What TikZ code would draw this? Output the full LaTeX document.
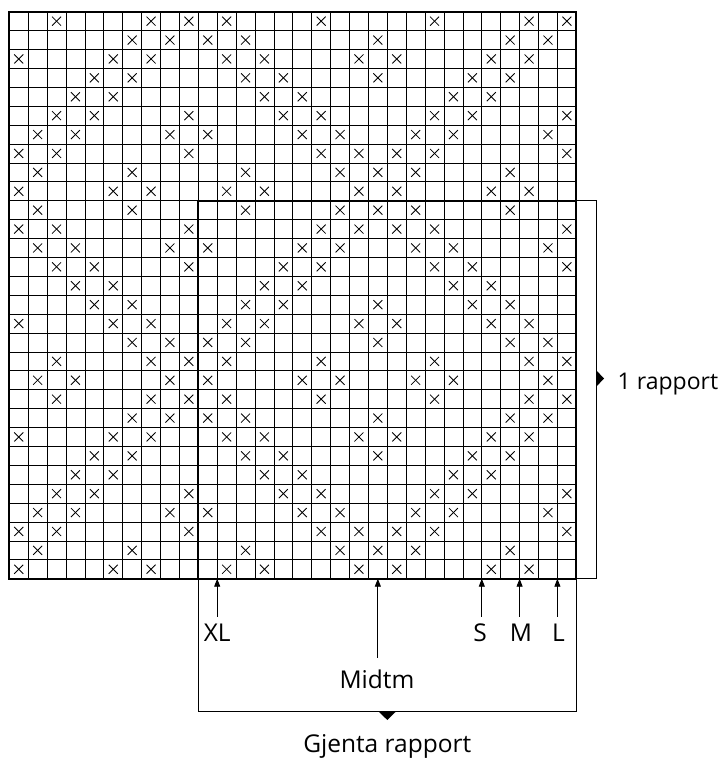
\documentclass[tikz,border=0pt]{standalone}
\usepackage{fontspec}
\setmainfont{Open Sans}
\usetikzlibrary{arrows.meta}
\begin{document}
\begin{tikzpicture}[x=1pt,y=-1pt,
  gridline/.style={line width=0.75pt},
  border/.style={line width=2pt},
  xmark/.style={line width=0.8pt},
  thinline/.style={line width=0.9pt},
  lbl/.style={font=\fontsize{24.5}{28}\selectfont, inner sep=0pt},
  uparrow/.style={thinline, -{Triangle[length=8pt,width=6pt]}}
]
\useasboundingbox (0,0) rectangle (724,758);
\def\s{18.9}
\def\ox{9.3}
\def\oy{11.7}
% grid lines
\foreach \k in {1,...,29} {
  \draw[gridline] ({\ox+\k*\s},\oy) -- ({\ox+\k*\s},{\oy+30*\s});
  \draw[gridline] (\ox,{\oy+\k*\s}) -- ({\ox+30*\s},{\oy+\k*\s});
}
% crosses
\foreach \r/\cols in {
 0/{2,7,9,11,16,22,27,29},
 1/{6,8,10,12,19,26,28},
 2/{0,5,7,11,13,18,20,25,27},
 3/{4,6,12,14,19,24,26},
 4/{3,5,13,15,23,25},
 5/{2,4,9,14,16,22,24,29},
 6/{1,3,8,10,15,17,21,23,28},
 7/{0,2,9,16,18,20,22,29},
 8/{1,6,12,17,19,21,26},
 9/{0,5,7,11,13,18,20,25,27},
 10/{1,6,12,17,19,21,26},
 11/{0,2,9,16,18,20,22,29},
 12/{1,3,8,10,15,17,21,23,28},
 13/{2,4,9,14,16,22,24,29},
 14/{3,5,13,15,23,25},
 15/{4,6,12,14,19,24,26},
 16/{0,5,7,11,13,18,20,25,27},
 17/{6,8,10,12,19,26,28},
 18/{2,7,9,11,16,22,27,29},
 19/{1,3,8,10,15,17,21,23,28},
 20/{2,7,9,11,16,22,27,29},
 21/{6,8,10,12,19,26,28},
 22/{0,5,7,11,13,18,20,25,27},
 23/{4,6,12,14,19,24,26},
 24/{3,5,13,15,23,25},
 25/{2,4,9,14,16,22,24,29},
 26/{1,3,8,10,15,17,21,23,28},
 27/{0,2,9,16,18,20,22,29},
 28/{1,6,12,17,19,21,26},
 29/{0,5,7,11,13,18,20,25,27}} {
  \foreach \c in \cols {
    \pgfmathsetmacro\cx{\ox+(\c+0.5)*\s}
    \pgfmathsetmacro\cy{\oy+(\r+0.5)*\s}
    \draw[xmark] ({\cx-4.5},{\cy-4.5}) -- ({\cx+4.5},{\cy+4.5});
    \draw[xmark] ({\cx-4.5},{\cy+4.5}) -- ({\cx+4.5},{\cy-4.5});
  }
}
% borders
\draw[border] (\ox,\oy) rectangle ({\ox+30*\s},{\oy+30*\s});
\draw[border] ({\ox+10*\s},{\oy+10*\s}) rectangle ({\ox+30*\s},{\oy+30*\s});
% right bracket
\draw[thinline] ({\ox+30*\s},{\oy+10*\s}) -- (596,{\oy+10*\s}) -- (596,{\oy+30*\s}) -- ({\ox+30*\s},{\oy+30*\s});
\fill (596,370) -- (604,378.5) -- (596,387) -- cycle;
\node[lbl, font=\fontsize{23}{26}\selectfont, anchor=base west] (rap) at (617.5,389) {1 rapport};
% bottom bracket
\draw[thinline] ({\ox+10*\s},{\oy+30*\s}) -- ({\ox+10*\s},711.7) -- ({\ox+30*\s},711.7) -- ({\ox+30*\s},{\oy+30*\s});
\fill (378.8,711.7) -- (395.8,711.7) -- (387.3,720) -- cycle;
\node[lbl, anchor=base] (gj) at (387.3,752.5) {Gjenta rapport};
% size arrows
\coordinate (tXL) at ({\ox+11*\s},{\oy+30*\s});
\coordinate (fXL) at ({\ox+11*\s},616.7);
\coordinate (tMi) at ({\ox+19.5*\s},{\oy+30*\s});
\coordinate (fMi) at ({\ox+19.5*\s},657.5);
\coordinate (tS) at ({\ox+25*\s},{\oy+30*\s});
\coordinate (fS) at ({\ox+25*\s},616.7);
\coordinate (tM) at ({\ox+27*\s},{\oy+30*\s});
\coordinate (fM) at ({\ox+27*\s},616.7);
\coordinate (tL) at ({\ox+29*\s},{\oy+30*\s});
\coordinate (fL) at ({\ox+29*\s},616.7);
\draw[uparrow] (fXL) -- (tXL);
\draw[uparrow] (fMi) -- (tMi);
\draw[uparrow] (fS) -- (tS);
\draw[uparrow] (fM) -- (tM);
\draw[uparrow] (fL) -- (tL);
\node[lbl, anchor=base] (XL) at ({\ox+11*\s},641) {XL};
\node[lbl, anchor=base] (Mi) at (377,688.3) {Midtm};
\node[lbl, anchor=base] (S) at (480,641) {S};
\node[lbl, anchor=base] (M) at (521,641) {M};
\node[lbl, anchor=base] (L) at (558.5,641) {L};
\end{tikzpicture}
\end{document}
